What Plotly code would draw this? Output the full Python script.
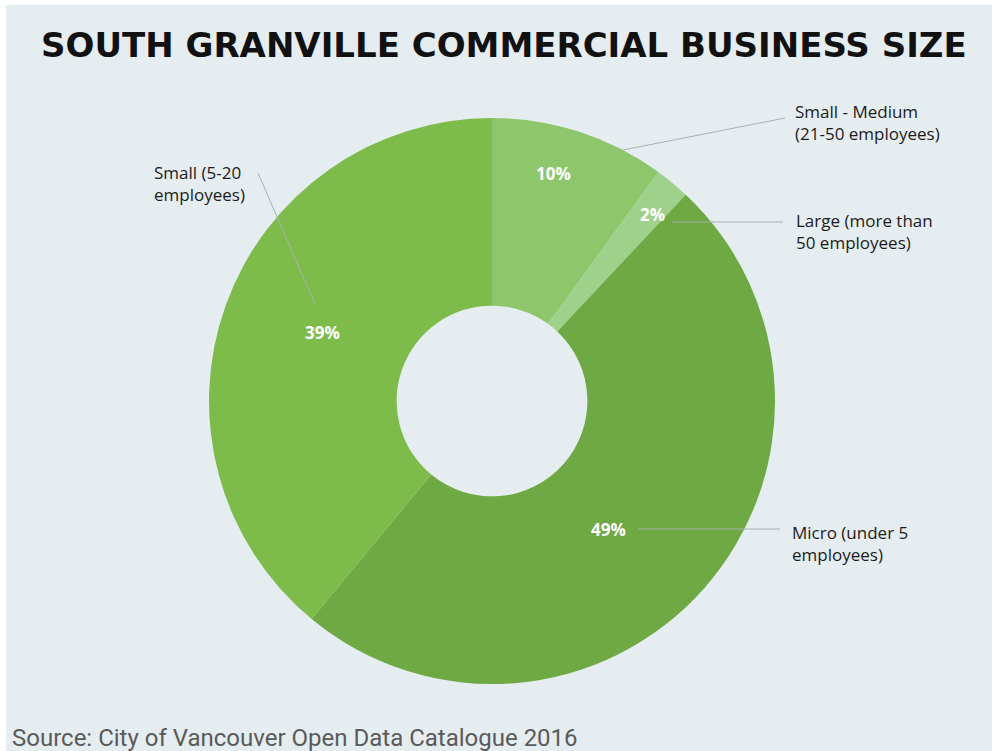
import math
import plotly.graph_objects as go

# Business size categories and their shares (%)
categories = [
    "Small - Medium (21-50 employees)",
    "Large (more than 50 employees)",
    "Micro (under 5 employees)",
    "Small (5-20 employees)",
]
shares = [10, 2, 49, 39]
callout_lines = [
    ["Small - Medium", "(21-50 employees)"],
    ["Large (more than", "50 employees)"],
    ["Micro (under 5", "employees)"],
    ["Small (5-20", "employees)"],
]
slice_colors = ["#8ec66c", "#9fd18a", "#6ea943", "#7dbc4b"]

W, H = 992, 751
BG = "#e6edf1"

# donut geometry in pixels
cx, cy, R = 492, 401, 283
hole = 0.337


def px(x):
    return x / W


def py(y):
    return 1 - y / H


fig = go.Figure()
fig.add_trace(go.Pie(
    labels=categories,
    values=shares,
    sort=False,
    direction="clockwise",
    rotation=0,
    hole=hole,
    marker=dict(colors=slice_colors, line=dict(width=0)),
    textinfo="none",
    hoverinfo="label+percent",
    showlegend=False,
    domain=dict(x=[px(cx - R), px(cx + R)], y=[py(cy + R), py(cy - R)]),
))

# percentage labels placed inside each slice, from the cumulative angles
radial_frac = [0.834, 0.87, 0.615, 0.645]
angle_nudge = [-3, 1, 6.4, 2.4]
total = sum(shares)
cum = 0
annotations = []
for i, v in enumerate(shares):
    mid = (cum + v / 2) / total * 360 + angle_nudge[i]
    cum += v
    a = math.radians(mid)
    r = R * radial_frac[i]
    x = cx + r * math.sin(a)
    y = cy - r * math.cos(a)
    annotations.append(dict(
        x=px(x), y=py(y), xref="paper", yref="paper",
        text=f"<b>{v}%</b>", showarrow=False,
        font=dict(family="Open Sans", size=17, color="white"),
        xanchor="center", yanchor="middle",
    ))

# callout text blocks (left x, block centre y) and leader lines
callout_pos = [(793, 122), (794, 232), (790, 543), (152, 183)]
leader = [
    ((623, 150), (785, 118)),
    ((672, 222), (783, 222)),
    ((638, 529), (780, 529)),
    ((258, 173), (315, 304)),
]
shapes = [dict(
    type="rect", xref="paper", yref="paper",
    x0=px(6), x1=px(W + 2), y0=py(H + 2), y1=py(5),
    fillcolor=BG, line=dict(width=0), layer="below",
)]
for i, lines in enumerate(callout_lines):
    lx, ly = callout_pos[i]
    annotations.append(dict(
        x=px(lx), y=py(ly), xref="paper", yref="paper",
        text="<br>".join(lines), showarrow=False, align="left",
        xanchor="left", yanchor="middle",
        font=dict(family="Open Sans", size=17, color="#1b1b1b"),
    ))
    (x0, y0), (x1, y1) = leader[i]
    shapes.append(dict(
        type="line", xref="paper", yref="paper",
        x0=px(x0), y0=py(y0), x1=px(x1), y1=py(y1),
        line=dict(color="#a9b0b3", width=1),
    ))

annotations.append(dict(
    x=px(504), y=py(45), xref="paper", yref="paper",
    text="<b>SOUTH GRANVILLE COMMERCIAL BUSINESS SIZE</b>",
    showarrow=False, xanchor="center", yanchor="middle",
    font=dict(family="DejaVu Sans", size=34, color="#111111"),
))
annotations.append(dict(
    x=px(10), y=py(738), xref="paper", yref="paper",
    text="Source: City of Vancouver Open Data Catalogue 2016",
    showarrow=False, xanchor="left", yanchor="middle",
    font=dict(family="Roboto", size=24, color="#5a5a5a"),
))

fig.update_layout(
    width=W, height=H,
    margin=dict(l=0, r=0, t=0, b=0),
    paper_bgcolor="white",
    plot_bgcolor=BG,
    annotations=annotations,
    shapes=shapes,
)

fig.write_html("out.html")
